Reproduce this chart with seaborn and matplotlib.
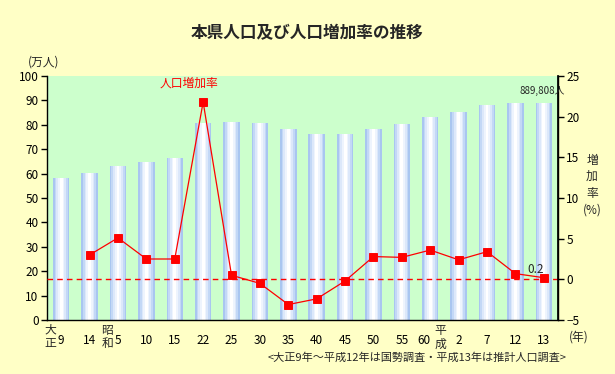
import matplotlib
matplotlib.use("Agg")
import matplotlib.pyplot as plt
import seaborn as sns
import pandas as pd
import numpy as np

years = ["9", "14", "5", "10", "15", "22", "25", "30", "35", "40", "45",
         "50", "55", "60", "2", "7", "12", "13"]
population = [58.3, 60.1, 63.1, 64.7, 66.3, 80.7, 81.1, 80.7, 78.2, 76.3,
              76.2, 78.3, 80.4, 83.3, 85.3, 88.2, 88.8, 89.0]
growth = [np.nan, 3.0, 5.1, 2.5, 2.5, 21.8, 0.5, -0.5, -3.1, -2.4, -0.2,
          2.8, 2.7, 3.6, 2.4, 3.4, 0.7, 0.2]

sns.set_theme(style="white")
plt.rcParams['font.family'] = ['Noto Sans CJK JP', 'DejaVu Sans']

BG = "#FFFFC6"
PLOT_BG = "#CCFFCC"

fig = plt.figure(figsize=(6.15, 3.74), dpi=100, facecolor=BG)
ax = fig.add_axes([47/615, 54/374, 511/615, 244/374])
ax.set_facecolor(PLOT_BG)

df = pd.DataFrame({"year": years, "pop": population, "rate": growth})

layers = [(0.58, "#A9C6F0"), (0.46, "#C3D8F6"), (0.34, "#DCE8FA"),
          (0.22, "#EEF4FD"), (0.10, "#FFFFFF")]
for w, c in layers:
    sns.barplot(data=df, x="year", y="pop", order=years, color=c,
                width=w, ax=ax, saturation=1, linewidth=0, errorbar=None)

ax.set_ylim(0, 100)
ax.set_xlim(-0.5, len(years) - 0.5)
ax.set_yticks(range(0, 101, 10))
ax.set_xlabel("")
ax.set_ylabel("")
ax.spines["top"].set_visible(False)
for s in ["left", "bottom", "right"]:
    ax.spines[s].set_color("black")
    ax.spines[s].set_linewidth(1.0)
ax.tick_params(axis="y", direction="out", length=4, width=1, color="black",
               labelsize=8.5, labelcolor="black", pad=2, left=True)
ax.tick_params(axis="x", length=0, labelsize=8.5, labelcolor="black", pad=10)
for lbl in ax.get_xticklabels():
    if lbl.get_text() == "60":
        lbl.set_horizontalalignment("right")
        lbl.set_x(lbl.get_position()[0])

ax2 = ax.twinx()
sns.pointplot(data=df, x="year", y="rate", order=years, color="#FF0000",
              markers="s", markersize=6, linewidth=0.9, ax=ax2, errorbar=None)
ax2.axhline(0, color="#FF0000", linestyle=(0, (4, 3)), linewidth=1.0)
ax2.set_ylim(-5, 25)
ax2.set_xlim(-0.5, len(years) - 0.5)
ax2.set_yticks(range(-5, 26, 5))
ax2.set_ylabel("")
ax2.set_xlabel("")
ax2.spines["top"].set_visible(False)
ax2.spines["right"].set_color("black")
ax2.spines["left"].set_visible(False)
ax2.spines["bottom"].set_visible(False)
ax2.tick_params(axis="y", direction="out", length=4, width=1, color="black",
                labelsize=8.5, labelcolor="black", pad=2, right=True)
ax2.grid(False)
ax.grid(False)

# Texts
fig.text(307/615, 1 - 33/374, "本県人口及び人口増加率の推移", ha="center",
         va="center", fontsize=12, fontweight="bold")
fig.text(44/615, 1 - 62/374, "(万人)", ha="center", va="center", fontsize=8.5)
fig.text(592/615, 1 - 185/374, "増\n加\n率\n(%)", ha="center", va="center",
         fontsize=8.5, linespacing=1.35)
ax.text(5 - 0.5, 97, "人口増加率", color="#FF0000", ha="center", va="center",
        fontsize=8.5)
ax2.text(len(years) - 1.05, 23.2, "889,808人", ha="center", va="center",
         fontsize=7)
ax2.text(len(years) - 1.3, 1.2, "0.2", ha="center", va="center", fontsize=8.5)

# era labels
ax.text(-0.38, -7.0, "大\n正", ha="center", va="center", fontsize=8.5,
        linespacing=1.05, clip_on=False)
ax.text(2 - 0.38, -7.0, "昭\n和", ha="center", va="center", fontsize=8.5,
        linespacing=1.05, clip_on=False)
ax.text(13 + 0.36, -7.0, "平\n成", ha="center", va="center", fontsize=8.5,
        linespacing=1.05, clip_on=False)
fig.text(579/615, 1 - 337/374, "(年)", ha="center", va="center", fontsize=8.5)
fig.text(417/615, 1 - 358/374,
         "<大正9年～平成12年は国勢調査・平成13年は推計人口調査>",
         ha="center", va="center", fontsize=8)

fig.savefig("out.png", dpi=100, facecolor=BG)
